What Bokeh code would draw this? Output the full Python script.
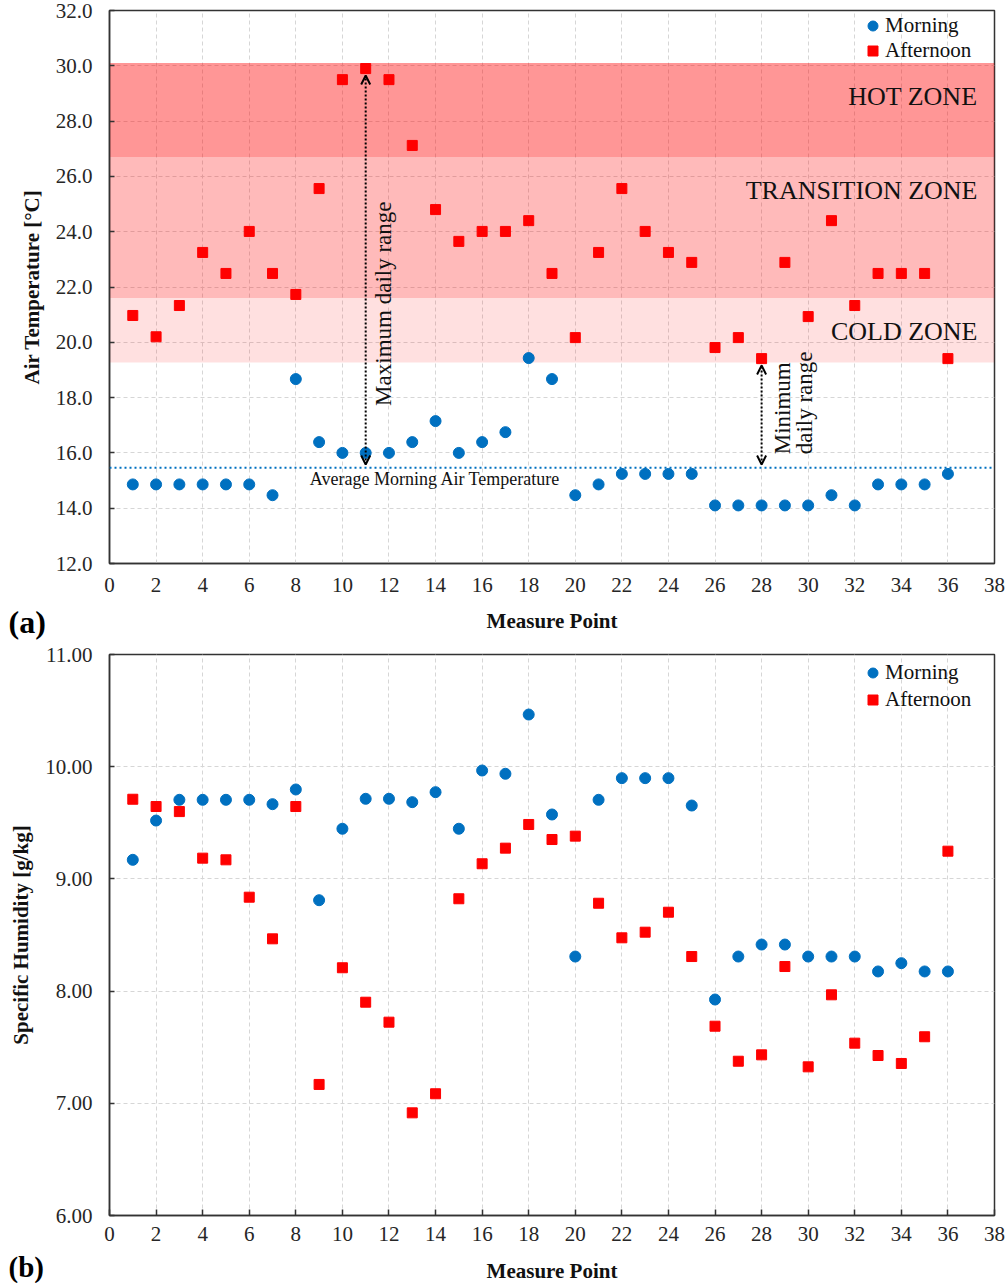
import numpy as np
from bokeh.plotting import figure
from bokeh.layouts import column, row
from bokeh.models import (Range1d, FixedTicker, NumeralTickFormatter, BoxAnnotation,
                          Span, Arrow, OpenHead, ColumnDataSource)
from bokeh.core.properties import value
from bokeh.embed import file_html
from bokeh.resources import INLINE

# ---------------- data ----------------
measure_points = list(range(1, 37))

temp_morning = [14.86, 14.86, 14.86, 14.86, 14.86, 14.86, 14.47, 18.67, 16.39, 16.0,
                16.0, 16.0, 16.39, 17.15, 16.0, 16.39, 16.75, 19.43, 18.67, 14.47,
                14.86, 15.24, 15.24, 15.24, 15.24, 14.1, 14.1, 14.1, 14.1, 14.1,
                14.47, 14.1, 14.86, 14.86, 14.86, 15.24]
temp_afternoon = [20.97, 20.2, 21.33, 23.25, 22.49, 24.01, 22.49, 21.73, 25.56, 29.5,
                  29.9, 29.5, 27.12, 24.8, 23.65, 24.01, 24.01, 24.4, 22.49, 20.17,
                  23.25, 25.56, 24.01, 23.25, 22.89, 19.81, 20.17, 19.41, 22.89, 20.93,
                  24.4, 21.33, 22.49, 22.49, 22.49, 19.41]

hum_morning = [9.17, 9.52, 9.705, 9.705, 9.705, 9.705, 9.666, 9.797, 8.81, 9.447,
               9.714, 9.714, 9.684, 9.773, 9.447, 9.966, 9.937, 10.465, 9.574, 8.308,
               9.705, 9.898, 9.898, 9.898, 9.654, 7.925, 8.308, 8.415, 8.415, 8.308,
               8.308, 8.308, 8.175, 8.249, 8.175, 8.175]
hum_afternoon = [9.71, 9.645, 9.60, 9.185, 9.17, 8.837, 8.466, 9.645, 7.168, 8.208,
                 7.901, 7.723, 6.915, 7.085, 8.823, 9.135, 9.274, 9.485, 9.351, 9.381,
                 8.783, 8.475, 8.525, 8.703, 8.308, 7.687, 7.375, 7.432, 8.219, 7.325,
                 7.967, 7.536, 7.426, 7.355, 7.593, 9.247]

zone_names = ["HOT ZONE", "TRANSITION ZONE", "COLD ZONE"]
zone_bottom = [26.7, 21.6, 19.27]
zone_top = [30.1, 26.7, 21.6]
zone_alpha = [0.41, 0.27, 0.12]

x_ticks = list(range(0, 39, 2))
temp_ticks = list(range(12, 33, 2))
hum_ticks = [6, 7, 8, 9, 10, 11]

panel_tags = ["(a)", "(b)"]
x_title = "Measure Point"

avg_morning = float(np.mean(temp_morning))

max_idx = int(np.argmax(temp_afternoon))   # measure point 11
min_idx = 27                               # measure point 28 (minimum afternoon value)

FONT = "Liberation Serif"
BLUE = "#0070C0"
RED = "#FF0000"
INK = "#262626"
W = 1007
LEFT = 109
RIGHT = 13


def style(p, fmt, yticks, xtick_in, xstandoff):
    p.xaxis.ticker = FixedTicker(ticks=x_ticks)
    p.yaxis.ticker = FixedTicker(ticks=yticks)
    p.yaxis.formatter = NumeralTickFormatter(format=fmt)
    for ax in p.xaxis + p.yaxis:
        ax.major_label_text_font = FONT
        ax.major_label_text_font_size = "21px"
        ax.major_label_text_color = INK
        ax.axis_label_text_font = FONT
        ax.axis_label_text_font_size = "21px"
        ax.axis_label_text_font_style = "bold"
        ax.axis_label_text_color = "#111111"
        ax.minor_tick_line_color = None
        ax.major_tick_out = 0
        ax.axis_line_color = "#333333"
        ax.axis_line_width = 1.5
        ax.major_tick_line_color = "#333333"
        ax.major_tick_line_width = 1.5
    p.yaxis.major_tick_in = 5
    p.xaxis.major_tick_in = xtick_in
    p.yaxis.major_label_standoff = 17
    p.yaxis.axis_label_standoff = 9
    p.xaxis.major_label_standoff = xstandoff
    for g in (p.xgrid, p.ygrid):
        g.grid_line_color = "#D6D6D6"
        g.grid_line_dash = "4 3"
        g.grid_line_width = 1
    p.outline_line_color = "#333333"
    p.outline_line_width = 1.5
    p.background_fill_color = "white"
    p.border_fill_color = "white"


def style_legend(p, row_h, vy):
    lg = p.legend[0]
    lg.location = (751, vy)
    lg.border_line_color = None
    lg.background_fill_alpha = 0
    lg.label_text_font = FONT
    lg.label_text_font_size = "21px"
    lg.label_text_color = "#111111"
    lg.glyph_width = 25
    lg.glyph_height = 25
    lg.label_height = row_h
    lg.label_standoff = 0
    lg.padding = 0
    lg.margin = 0
    lg.spacing = 0


def blank(width, height, x_range, **kw):
    s = figure(width=width, height=height, x_range=x_range, y_range=Range1d(height, 0),
               x_axis_type=None, y_axis_type=None, output_backend="svg",
               toolbar_location=None, **kw)
    s.outline_line_color = None
    s.background_fill_color = "white"
    s.border_fill_color = "white"
    return s


def caption_row(height, tag, tag_y, tag_size, title_y):
    # strip below a panel: panel tag at the far left, x-axis title centred on the frame
    t = blank(LEFT, height, Range1d(0, LEFT), min_border=0)
    t.text(x=[8], y=[tag_y], text=[tag], text_align="left", text_baseline="middle",
           text_font=value(FONT), text_font_size=tag_size, text_font_style="bold",
           text_color="black")
    s = blank(W - LEFT, height, Range1d(0, 38), min_border_left=0, min_border_right=RIGHT,
              min_border_top=0, min_border_bottom=0)
    s.text(x=[19], y=[title_y], text=[x_title], text_align="center",
           text_baseline="middle", text_font=value(FONT), text_font_size="21px",
           text_font_style="bold", text_color="#111111")
    return row(t, s, spacing=0)


# ---------------- (a) air temperature ----------------
p1 = figure(width=W, height=602, frame_width=885, frame_height=553,
            x_range=Range1d(0, 38), y_range=Range1d(12, 32),
            output_backend="svg", toolbar_location=None,
            min_border_left=LEFT, min_border_right=RIGHT, min_border_top=10, min_border_bottom=39)
style(p1, "0.0", temp_ticks, 0, 14)
p1.yaxis.axis_label = "Air Temperature [°C]"

for b, t, a in zip(zone_bottom, zone_top, zone_alpha):
    p1.add_layout(BoxAnnotation(bottom=b, top=t, fill_color=RED, fill_alpha=a,
                                line_color=None, level="underlay"))

zone_src = ColumnDataSource(dict(x=[38] * 3, y=zone_top, text=zone_names))
p1.text(x="x", y="y", text="text", source=zone_src, text_align="right",
        text_baseline="middle", x_offset=-17, y_offset=33,
        text_font=value(FONT), text_font_size="26px", text_color="#111111")

p1.add_layout(Span(location=avg_morning, dimension="width", line_color=BLUE,
                   line_dash="2 3", line_width=2))
p1.text(x=[8.6], y=[avg_morning], text=["Average Morning Air Temperature"],
        text_align="left", text_baseline="middle", y_offset=11,
        text_font=value(FONT), text_font_size="18px", text_color="#111111")

for idx in (max_idx, min_idx):
    xm = measure_points[idx]
    p1.add_layout(Arrow(x_start=xm, y_start=avg_morning + 0.12,
                        x_end=xm, y_end=temp_afternoon[idx] - 0.25,
                        line_color="black", line_width=2, line_dash="2 2",
                        start=OpenHead(size=9, line_width=2, line_color="black"),
                        end=OpenHead(size=9, line_width=2, line_color="black")))

ann_src = ColumnDataSource(dict(
    x=[measure_points[max_idx], measure_points[min_idx], measure_points[min_idx]],
    y=[17.7, 15.95, 15.95],
    text=["Maximum daily range", "Minimum", "daily range"],
    xo=[18, 21, 43]))
p1.text(x="x", y="y", text="text", source=ann_src, x_offset="xo", angle=np.pi / 2,
        text_align="left", text_baseline="middle",
        text_font=value(FONT), text_font_size="23px", text_color="#111111")

p1.scatter(measure_points, temp_morning, marker="circle", size=11, color=BLUE,
           legend_label="Morning")
p1.scatter(measure_points, temp_afternoon, marker="square", size=10, color=RED,
           legend_label="Afternoon")
style_legend(p1, 25, 500)

c1 = caption_row(38, panel_tags[0], 19, "32px", 18)

# ---------------- (b) specific humidity ----------------
p2 = figure(width=W, height=610, frame_width=885, frame_height=561,
            x_range=Range1d(0, 38), y_range=Range1d(6, 11),
            output_backend="svg", toolbar_location=None,
            min_border_left=LEFT, min_border_right=RIGHT, min_border_top=14, min_border_bottom=35)
style(p2, "0.00", hum_ticks, 6, 11)
p2.yaxis.axis_label = "Specific Humidity [g/kg]"

p2.scatter(measure_points, hum_morning, marker="circle", size=11, color=BLUE,
           legend_label="Morning")
p2.scatter(measure_points, hum_afternoon, marker="square", size=10, color=RED,
           legend_label="Afternoon")
style_legend(p2, 27, 502)

c2 = caption_row(33, panel_tags[1], 16.5, "29px", 20)

layout = column(p1, c1, p2, c2, spacing=0)
open("out.html", "w").write(file_html(layout, INLINE))
